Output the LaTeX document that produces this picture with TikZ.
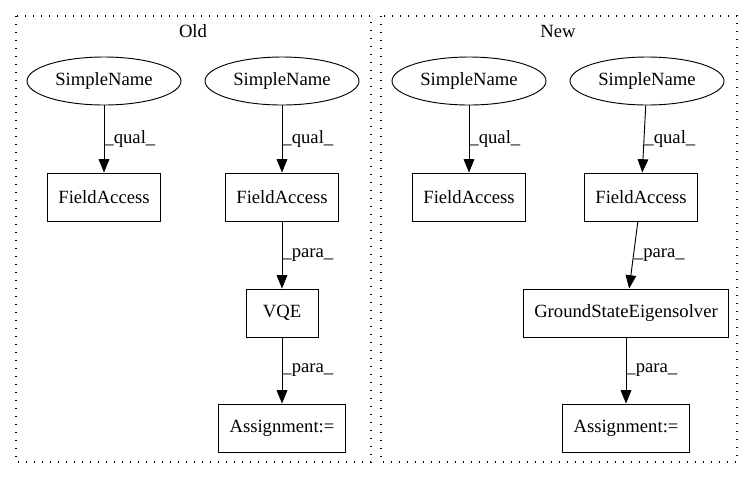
\documentclass[tikz,border=0pt]{standalone}
\usepackage{fontspec}
\setmainfont{Liberation Serif}
\usetikzlibrary{shapes,arrows,arrows.meta}

\begin{document}
\begin{tikzpicture}[x=0.75pt, y=-0.75pt,
    every node/.style={font=\fontsize{14pt}{16pt}\selectfont},
    sname/.style={draw, ellipse, line width=0.7pt, minimum width=115.5pt, minimum height=36pt, inner sep=0pt},
    fbox/.style={draw, rectangle, line width=0.7pt, minimum width=54pt, minimum height=36pt, inner xsep=8pt},
    flow/.style={line width=0.7pt, -{Triangle[length=10pt, width=8pt]}},
    elabel/.style={right, inner sep=0pt},
    cluster/.style={line width=0.8pt, dash pattern=on 1pt off 5pt}]

    \useasboundingbox (0,0) rectangle (752,480);

    \coordinate (O0) at (16,16);
    \coordinate (O1) at (371,462);
    \coordinate (N0) at (381,16);
    \coordinate (N1) at (737,462);

    \draw [cluster] (O0) rectangle (O1);
    \draw [cluster] (N0) rectangle (N1);
    \node (oldlbl) at (193,31) {Old};
    \node (newlbl) at (558,31) {New};

    % old
    \node [sname] (snOL) at (104,81) {SimpleName};
    \node [sname] (snOR) at (282,81) {SimpleName};
    \node [fbox] (faOL) at (104,197) {FieldAccess};
    \node [fbox] (faOR) at (282,197) {FieldAccess};
    \node [fbox] (vqe) at (282,313) {VQE};
    \node [fbox] (asgOld) at (282,428) {Assignment:=};

    % new
    \node [sname] (snNL) at (469,81) {SimpleName};
    \node [sname] (snNR) at (647,81) {SimpleName};
    \node [fbox] (faNL) at (469,197) {FieldAccess};
    \node [fbox] (faNR) at (641,197) {FieldAccess};
    \node [fbox] (gse) at (626,313) {GroundStateEigensolver};
    \node [fbox] (asgNew) at (626,428) {Assignment:=};

    \draw [flow] (snOL) -- node [elabel] {\_qual\_} (faOL);
    \draw [flow] (snOR) -- node [elabel] {\_qual\_} (faOR);
    \draw [flow] (faOR) -- node [elabel] {\_para\_} (vqe);
    \draw [flow] (vqe) -- node [elabel] {\_para\_} (asgOld);

    \draw [flow] (snNL) -- node [elabel] {\_qual\_} (faNL);
    \draw [flow] (snNR) -- node [elabel] {\_qual\_} (faNR);
    \draw [flow] (faNR) -- node [elabel] {\_para\_} (gse);
    \draw [flow] (gse) -- node [elabel] {\_para\_} (asgNew);
\end{tikzpicture}
\end{document}
